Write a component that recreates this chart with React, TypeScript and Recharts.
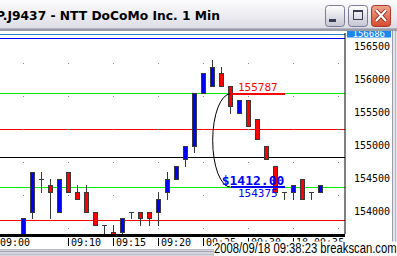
import React from 'react';
import { ComposedChart, Bar, XAxis, YAxis, ReferenceLine, Scatter } from 'recharts';

// ---- data ----
const minutes = [
  '09:05', '09:06', '09:07', '09:08', '09:09', '09:10', '09:11', '09:12', '09:13', '09:14',
  '09:15', '09:16', '09:17', '09:18', '09:19', '09:20', '09:21', '09:22', '09:23', '09:24',
  '09:25', '09:26', '09:27', '09:28', '09:29', '09:30', '09:31', '09:32', '09:33', '09:34',
  '09:35', '09:36', '09:37', '09:38',
];
const opens = [
  153500, 154000, 154500, 154400, 154000, 154600, 154300, 154300, 154000, 153800,
  153700, 153700, 154000, 154000, 154000, 154000, 154300, 154500, 154800, 155000,
  155800, 155900, 156100, 155900, 155500, 155700, 155400, 155000, 154700, 154300,
  154300, 154500, 154300, 154300,
];
const highs = [
  153900, 154600, 154600, 154500, 154500, 154600, 154400, 154400, 154000, 153800,
  153800, 153900, 154000, 154000, 154000, 154300, 154600, 154700, 155000, 155800,
  156100, 156300, 156200, 155900, 155700, 155700, 155400, 155000, 154700, 154300,
  154400, 154500, 154300, 154400,
];
const lows = [
  153500, 153900, 154300, 153900, 154000, 154300, 154200, 154000, 153800, 153500,
  153500, 153500, 153900, 153800, 153800, 153800, 154200, 154500, 154700, 154900,
  155800, 155900, 155900, 155500, 155500, 155300, 155100, 154800, 154300, 154200,
  154200, 154200, 154200, 154300,
];
const closes = [
  153900, 154600, 154500, 154300, 154500, 154300, 154200, 154000, 153800, 153800,
  153600, 153900, 154000, 153900, 153900, 154200, 154500, 154700, 155000, 155800,
  156100, 156200, 155900, 155600, 155700, 155300, 155100, 154800, 154300, 154300,
  154400, 154200, 154300, 154400,
];

const priceTicks = [156686, 156500, 156000, 155500, 155000, 154500, 154000];
const topPrice = 156686;
const timeTickIdx = [5, 10, 15, 20, 25, 30];
const timeTickLabels = ['09:10', '09:15', '09:20', '09:25', '09:30', '18-09:35'];
const firstTimeLabel = '09:00';

const levelValues = [156680, 156633, 155787, 155250, 154826, 154375, 153871];
const levelColors = ['#2f7fd6', '#0000ff', '#00ee00', '#ff0000', '#000000', '#00ee00', '#ff0000'];

const gridXs = [0, 5, 10, 15, 20, 25, 30, 35];
const gridYs = [156250, 155750, 155250, 154750, 154250, 153750];

const measureHigh = 155787;
const measureLow = 154375;
const measureStart = 23;
const measureEnd = 29.1;

const yDomain = [153664, 156709];
const xDomain = [-2.611, 35.722];

const stampText = '2008/09/18 09:38:23 breakscan.com';
const titleText = 'P.J9437 - NTT DoCoMo Inc. 1 Min';

const candles = minutes.map((t, i) => ({ i, t, o: opens[i], h: highs[i], l: lows[i], c: closes[i] }));
const gridDots = gridXs.flatMap((gx) => gridYs.map((gy) => ({ i: gx, p: gy })));

const MONO = '"DejaVu Sans Mono", monospace';
const crisp = (v: number) => Math.round(v - 0.5) + 0.5;

const CandleShape = (props: any) => {
  const { x, y, width, height, payload } = props;
  if (!payload) return null;
  const { o, h, l, c } = payload;
  const top = Math.min(y, y + height);
  const bot = Math.max(y, y + height);
  const k = (bot - top) / (h - l);
  const py = (p: number) => top + (h - p) * k;
  const cx = crisp(x + width / 2);
  const edge = '#383838';
  const wick = <line x1={cx} x2={cx} y1={Math.round(py(h))} y2={Math.round(py(l)) + 1} stroke={edge} strokeWidth={1} />;
  if (o === c) {
    const yy = Math.round(py(o)) + 0.5;
    return (
      <g>
        {wick}
        <line x1={cx - 2.5} x2={cx + 2.5} y1={yy} y2={yy} stroke={edge} strokeWidth={1} />
      </g>
    );
  }
  const yt = Math.round(py(Math.max(o, c))) + 0.5;
  const yb = Math.round(py(Math.min(o, c))) + 0.5;
  return (
    <g>
      {wick}
      <rect x={cx - 2} y={yt} width={4} height={yb - yt} fill={c > o ? '#0000ff' : '#ff0000'} stroke={edge} strokeWidth={1} />
    </g>
  );
};

const makeLevelLine = (color: string) => (p: any) => {
  const yy = crisp(p.y1);
  return <line x1={p.x1} x2={p.x2} y1={yy} y2={yy} stroke={color} strokeWidth={1} shapeRendering="crispEdges" />;
};

const PriceTick = (props: any) => {
  const { x, y, payload } = props;
  const v = payload.value;
  if (v === topPrice) {
    return (
      <g>
        <rect x={x - 6} y={y - 4} width={44} height={7} fill="#1a86f0" />
        <text x={x - 0.5} y={y + 2.6} fontFamily={MONO} fontSize={9} fill="#ffffff">{String(v)}</text>
      </g>
    );
  }
  return (
    <text x={x + 1} y={y + 3.6} fontFamily={MONO} fontSize={10} fill="#000">{String(v)}</text>
  );
};

const TimeTick = (props: any) => {
  const { x, y, payload } = props;
  const idx = timeTickIdx.indexOf(payload.value);
  if (idx < 0) {
    return <text x={x} y={y + 12} fontFamily={MONO} fontSize={10} fill="#000">{firstTimeLabel}</text>;
  }
  const bx = crisp(x);
  return (
    <g>
      <line x1={bx} x2={bx} y1={y + 4} y2={y + 12} stroke="#000" strokeWidth={1} />
      <text x={bx + 2.5} y={y + 12} fontFamily={MONO} fontSize={10} fill="#000">{timeTickLabels[idx]}</text>
    </g>
  );
};

const HighSegment = (p: any) => {
  const yy = Math.round(p.y1) - 0.5;
  return (
    <g>
      <line x1={p.x1} x2={p.x2} y1={yy} y2={yy} stroke="#ff0000" strokeWidth={2} shapeRendering="crispEdges" />
      <text x={p.x1 + 7.5} y={p.y1 - 3} fontFamily={MONO} fontSize={11} fill="#ff0000">{String(measureHigh)}</text>
    </g>
  );
};

const LowSegment = (p: any) => {
  const yy = Math.round(p.y1);
  return (
    <g>
      <line x1={p.x1} x2={p.x2} y1={yy} y2={yy} stroke="#0000ff" strokeWidth={2} shapeRendering="crispEdges" />
      <text x={p.x1 - 8.8} y={p.y1 - 2.5} fontFamily={MONO} fontSize={13} fontWeight="bold" fill="#0000ff">
        {'$' + (measureHigh - measureLow).toFixed(2)}
      </text>
      <text x={p.x1 + 7.5} y={p.y1 + 10} fontFamily={MONO} fontSize={11} fill="#0000ff">{String(measureLow)}</text>
    </g>
  );
};

const ArcShape = (p: any) => {
  const ry = Math.abs(p.y2 - p.y1) / 2;
  return (
    <path
      d={`M${p.x1},${p.y1} A17.8,${ry} 0 0 0 ${p.x2},${p.y2}`}
      stroke="#000"
      strokeWidth={1}
      fill="none"
    />
  );
};

const Chrome = () => (
  <svg width={397} height={256} style={{ position: 'absolute', left: 0, top: 0, pointerEvents: 'none' }}>
    <defs>
      <linearGradient id="tbg" x1="0" y1="0" x2="0" y2="1">
        <stop offset="0" stopColor="#fcfcfd" />
        <stop offset="0.55" stopColor="#ececf1" />
        <stop offset="1" stopColor="#dcdce4" />
      </linearGradient>
      <linearGradient id="btn" x1="0" y1="0" x2="0" y2="1">
        <stop offset="0" stopColor="#ffffff" />
        <stop offset="1" stopColor="#c4c4d4" />
      </linearGradient>
      <linearGradient id="cls" x1="0" y1="0" x2="0" y2="1">
        <stop offset="0" stopColor="#f2a48e" />
        <stop offset="1" stopColor="#d64a30" />
      </linearGradient>
    </defs>
    <rect x={0} y={0} width={397} height={28} fill="url(#tbg)" />
    <rect x={0} y={28} width={397} height={1} fill="#b4b4c0" />
    <rect x={0} y={29} width={397} height={2} fill="#9a9aa8" />
    <text x={-4} y={20} fontFamily='"DejaVu Sans", sans-serif' fontWeight="bold" fontSize={12.5} fill="#000"
      textLength={224} lengthAdjust="spacingAndGlyphs">{titleText}</text>
    <rect x={325.5} y={5.5} width={19} height={21} rx={3} fill="url(#btn)" stroke="#7c7c94" />
    <rect x={329} y={19} width={7} height={3} fill="#3c3c50" />
    <rect x={348.5} y={5.5} width={19} height={21} rx={3} fill="url(#btn)" stroke="#7c7c94" />
    <rect x={353.5} y={10.5} width={9} height={9} fill="none" stroke="#3c3c50" />
    <rect x={353} y={10} width={10} height={2} fill="#3c3c50" />
    <rect x={371.5} y={5.5} width={19} height={21} rx={3} fill="url(#cls)" stroke="#a8382a" />
    <path d="M376,10 L386,21 M386,10 L376,21" stroke="#8a2a1a" strokeWidth={4} />
    <path d="M376,10 L386,21 M386,10 L376,21" stroke="#ffffff" strokeWidth={2.2} />
    <rect x={392} y={31} width={5} height={218} fill="#e4e4ec" />
    <rect x={392} y={31} width={1} height={218} fill="#9c9ca8" />
    <rect x={395} y={31} width={1} height={218} fill="#b4b4c0" />
    <rect x={0} y={249} width={397} height={7} fill="#d6d6de" />
    <rect x={0} y={249} width={397} height={1} fill="#b8b8c4" />
    <rect x={0} y={251} width={397} height={1} fill="#a4a4b0" />
    <rect x={0} y={254} width={397} height={1} fill="#bcbcc8" />
    <rect x={214} y={241.5} width={183} height={14.5} fill="#ffffff" />
    <text x={214} y={252.5} fontFamily='"Liberation Sans", Arial, sans-serif' fontSize={14} fill="#000"
      textLength={182.5} lengthAdjust="spacingAndGlyphs">{stampText}</text>
  </svg>
);

export default function App() {
  return (
    <div style={{ position: 'absolute', left: 0, top: 0, width: 397, height: 256, background: '#fff', overflow: 'hidden' }}>
      <ComposedChart width={397} height={256} data={candles} margin={{ top: 33, right: 0, bottom: 0, left: 0 }}>
        <XAxis
          dataKey="i"
          type="number"
          domain={xDomain}
          allowDataOverflow
          ticks={[xDomain[0], ...timeTickIdx]}
          interval={0}
          height={22}
          tickSize={0}
          tickMargin={0}
          tickLine={false}
          axisLine={{ stroke: '#000', strokeWidth: 3, transform: 'translate(0,1.5)' }}
          tick={<TimeTick />}
        />
        <YAxis
          orientation="right"
          type="number"
          domain={yDomain}
          allowDataOverflow
          ticks={priceTicks}
          interval={0}
          width={52}
          tickSize={6}
          tickMargin={2}
          tickLine={false}
          axisLine={{ stroke: '#000', strokeWidth: 1 }}
          tick={<PriceTick />}
        />
        {levelValues.map((v, k) => (
          <ReferenceLine key={'lv' + k} y={v} stroke={levelColors[k]} shape={makeLevelLine(levelColors[k])} zIndex={50} />
        ))}
        <Scatter data={gridDots} dataKey="p" isAnimationActive={false} zIndex={60}
          shape={(p: any) => <rect x={Math.floor(p.cx)} y={Math.floor(p.cy)} width={1} height={1} fill="#8a8a8a" />} />
        <Bar dataKey={(d: any) => [d.l, d.h]} barSize={5} isAnimationActive={false} shape={<CandleShape />} />
        <ReferenceLine
          segment={[{ x: measureStart, y: measureHigh }, { x: measureStart, y: measureLow }]}
          shape={ArcShape}
          zIndex={2000}
        />
        <ReferenceLine
          segment={[{ x: measureStart, y: measureHigh }, { x: measureEnd, y: measureHigh }]}
          shape={HighSegment}
          zIndex={2000}
        />
        <ReferenceLine
          segment={[{ x: measureStart, y: measureLow }, { x: measureEnd, y: measureLow }]}
          shape={LowSegment}
          zIndex={2000}
        />
      </ComposedChart>
      <Chrome />
    </div>
  );
}
